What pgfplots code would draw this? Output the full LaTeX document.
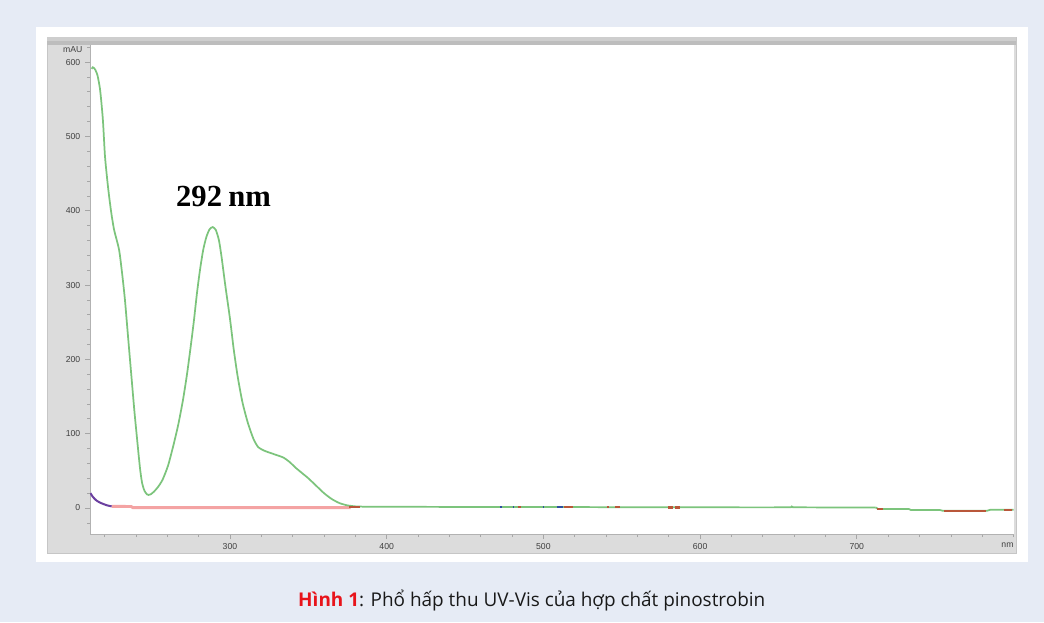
\documentclass[border=0pt]{standalone}
\usepackage{fontspec}
\usepackage{pgfplots}
\pgfplotsset{compat=1.18}
\setmainfont{Liberation Sans}
\newfontfamily\seriffont{Liberation Serif}
\newfontfamily\capfont{Open Sans}
\definecolor{bgblue}{HTML}{E6EBF5}
\definecolor{framegray}{HTML}{DCDCDC}
\definecolor{framedark}{HTML}{BDBDBD}
\definecolor{specgreen}{HTML}{7CC47C}
\definecolor{salmon}{HTML}{F4A3A3}
\definecolor{specpurple}{HTML}{6B3FA0}
\definecolor{specbrown}{HTML}{B9573A}
\definecolor{specblue}{HTML}{2E4FA0}
\definecolor{capred}{HTML}{E8141B}
\definecolor{ticklab}{HTML}{404040}
\begin{document}
\begin{tikzpicture}
\useasboundingbox (0,0) rectangle (783pt,466.5pt);
\fill[bgblue] (0,0) rectangle (783pt,466.5pt);
\fill[white] (27pt,45pt) rectangle (771pt,446.25pt);
\filldraw[fill=framegray,draw=gray!45] (35.25pt,51.75pt) rectangle (762pt,438.75pt);
\fill[framegray!85!gray] (35.25pt,435.75pt) rectangle (762pt,438.75pt);
\fill[framedark] (35.25pt,432.75pt) rectangle (762pt,435.75pt);
\fill[white] (67.5pt,66pt) rectangle (760.5pt,432.75pt);
\begin{axis}[
  at={(67.5pt,66pt)}, anchor=south west,
  scale only axis, width=693pt, height=366.75pt,
  xmin=210.7, xmax=800.3, ymin=-35, ymax=623,
  axis x line*=bottom, axis y line*=left,
  axis line style={-, draw=gray!60, line width=0.6pt},
  xtick={300,400,500,600,700},
  minor xtick={220,240,...,800},
  ytick={0,100,...,600},
  minor ytick={-20,20,40,60,80,120,140,160,180,220,240,260,280,320,340,360,380,420,440,460,480,520,540,560,580,620},
  tick align=outside,
  major tick length=3.75pt, minor tick length=2.25pt,
  tick style={draw=gray!70, line width=0.5pt},
  tick label style={font=\fontsize{6.5}{7.5}\selectfont, text=ticklab},
  /pgf/number format/assume math mode=true,
  unbounded coords=jump,
]
\addplot[salmon, line width=2.2pt] coordinates {
(224.5,2.2) (237,2.0) (238,0.6) (377,0.6)
};
\addplot[specgreen, line width=1.3pt, smooth, tension=0.4] coordinates {
(211.7,591) (212.5,593) (214,590) (215.5,582) (217,565) (218,545) (219,520)
(220.2,475) (221.2,452) (222.3,430) (223.4,411) (224.5,394) (226,375)
(227.7,361) (229,350) (229.8,340) (231.5,310) (233,280) (234.6,240)
(236.2,200) (237.5,168) (239,131) (240.5,98) (241.8,70) (242.8,50)
(244,33) (245.5,23) (247,18.5) (248,17.5) (249.5,18.5) (251.5,22)
(254,28) (257,38) (260.5,57) (264,85) (267,112) (270,145) (272.6,180)
(275,218) (277,252) (279,290) (281,322) (283,348) (285,365) (287,375)
(289,378) (291,374) (293,360) (294.7,337) (297,300) (300,255) (302.5,212)
(305,176) (308,142) (311.5,114) (315,93) (318,82) (322,77) (326,74)
(330,71) (334,68) (338,62) (342,54) (346,47) (350,40) (355,30) (360,20)
(365,12) (370,6.5) (375,3.5) (380,2.2) (385,1.8) (400,1.6) (500,1.3)
(600,0.9) (655,0.9) (658.5,2.0) (662,0.9) (712,0.8)
};
\addplot[specgreen, line width=1.3pt] coordinates {
(712,0.8) (713.5,-1.2) (733,-1.2) (734.5,-2.7) (753,-2.7) (755,-3.8)
(783,-3.8) (785,-2.5) (800,-2.5)
};
\addplot[specpurple, line width=1.5pt, smooth] coordinates {
(211,20) (212.5,15) (214.9,9.9) (217,7.3) (219.2,5.4) (221.5,3.6) (224.5,2.2)
};
\addplot[specbrown, line width=1.8pt] coordinates {
(376,1.6) (383,1.6) (384,nan)
(484,1.2) (485.5,1.2) (486,nan)
(513,1.2) (519,1.2) (520,nan)
(540.5,1.1) (541.8,1.1) (542,nan)
(546,1.1) (549,1.1) (550,nan)
(579.5,0.9) (582.5,0.9) (583,nan)
(584,0.9) (587,0.9) (588,nan)
(713,-1.2) (716.5,-1.2) (717,nan)
(755.5,-3.8) (782.5,-3.8) (783,nan)
(794,-2.5) (799,-2.5)
};
\addplot[specblue, line width=1.5pt] coordinates {
(472.3,1.2) (473.3,1.2) (474,nan)
(480.3,1.2) (481.3,1.2) (482,nan)
(499.5,1.2) (500.5,1.2) (501,nan)
(508.5,1.2) (512.5,1.2)
};
\node[anchor=base, font=\seriffont\bfseries\fontsize{23}{26}\selectfont] at (axis cs:295.9,406) {292\hspace{0.2em}nm};
\end{axis}
\node[font=\fontsize{6.5}{7.5}\selectfont, text=ticklab] at (54.5pt,429pt) {mAU};
\node[font=\fontsize{6.5}{7.5}\selectfont, text=ticklab] at (755.6pt,57.75pt) {nm};
\node[anchor=base, font=\capfont\fontsize{14.2}{16}\selectfont, text=black!90] at (398.8pt,11.5pt) {\textcolor{capred}{\textbf{Hình 1}}: Phổ hấp thu UV-Vis của hợp chất pinostrobin};
\end{tikzpicture}
\end{document}
